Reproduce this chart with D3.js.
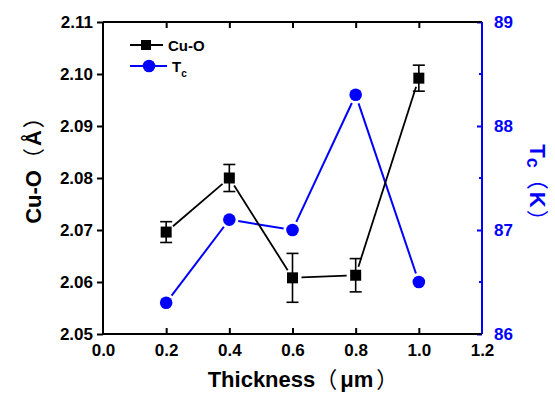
<!DOCTYPE html>
<html>
<head>
<meta charset="utf-8">
<script src="https://cdn.jsdelivr.net/npm/d3@7"></script>
<style>
  body { margin: 0; background: #fff; }
  svg { display: block; font-family: "Liberation Sans", Arial, sans-serif; font-weight: bold; }
</style>
</head>
<body>
<svg id="chart" width="555" height="394"></svg>
<script>
// data
var thickness = [0.2, 0.4, 0.6, 0.8, 1.0];
var cuO = [2.0696, 2.0800, 2.0608, 2.0613, 2.0992];
var cuOErr = [0.0020, 0.0026, 0.0047, 0.0032, 0.0025];
var tc = [86.30, 87.10, 87.00, 88.30, 86.50];

var xTicks = [0.0, 0.2, 0.4, 0.6, 0.8, 1.0, 1.2];
var yLeftTicks = [2.05, 2.06, 2.07, 2.08, 2.09, 2.10, 2.11];
var yRightTicks = [86, 87, 88, 89];
var yRightMinor = [86.5, 87.5, 88.5];

var blue = '#0000ff';

var svg = d3.select('#chart'),
    margin = { top: 22, right: 73, bottom: 60, left: 103 },
    width = 555 - margin.left - margin.right,
    height = 394 - margin.top - margin.bottom;

var x = d3.scaleLinear().domain([0, 1.2]).range([0, width]);
var yL = d3.scaleLinear().domain([2.05, 2.11]).range([height, 0]);
var yR = d3.scaleLinear().domain([86, 89]).range([height, 0]);

var g = svg.append('g')
    .attr('transform', 'translate(' + margin.left + ',' + margin.top + ')');

// lines broken around symbols, Origin style
function gappedSegments(pts, gap) {
    var segs = [];
    for (var i = 0; i < pts.length - 1; i++) {
        var a = pts[i], b = pts[i + 1];
        var dx = b[0] - a[0], dy = b[1] - a[1];
        var len = Math.sqrt(dx * dx + dy * dy);
        if (len <= 2 * gap) continue;
        var ux = dx / len, uy = dy / len;
        segs.push([[a[0] + ux * gap, a[1] + uy * gap], [b[0] - ux * gap, b[1] - uy * gap]]);
    }
    return segs;
}

var cuPts = thickness.map(function(t, i) { return [x(t), yL(cuO[i])]; });
var tcPts = thickness.map(function(t, i) { return [x(t), yR(tc[i])]; });
var line = d3.line();

// Tc series
g.append('g').selectAll('path')
    .data(gappedSegments(tcPts, 9))
    .enter().append('path')
    .attr('d', line)
    .attr('fill', 'none')
    .attr('stroke', blue)
    .attr('stroke-width', 2);

g.append('g').selectAll('circle')
    .data(thickness)
    .enter().append('circle')
    .attr('cx', function(d) { return x(d); })
    .attr('cy', function(d, i) { return yR(tc[i]); })
    .attr('r', 6.3)
    .attr('fill', blue);

// Cu-O series
g.append('g').selectAll('path')
    .data(gappedSegments(cuPts, 9))
    .enter().append('path')
    .attr('d', line)
    .attr('fill', 'none')
    .attr('stroke', '#000')
    .attr('stroke-width', 1.8);

var err = g.append('g').attr('stroke', '#000').attr('stroke-width', 1.6);
thickness.forEach(function(t, i) {
    var cx = x(t), y1 = yL(cuO[i] - cuOErr[i]), y2 = yL(cuO[i] + cuOErr[i]);
    err.append('line').attr('x1', cx).attr('x2', cx).attr('y1', y1).attr('y2', y2);
    err.append('line').attr('x1', cx - 6).attr('x2', cx + 6).attr('y1', y1).attr('y2', y1);
    err.append('line').attr('x1', cx - 6).attr('x2', cx + 6).attr('y1', y2).attr('y2', y2);
});

g.append('g').selectAll('rect')
    .data(thickness)
    .enter().append('rect')
    .attr('x', function(d) { return x(d) - 5.5; })
    .attr('y', function(d, i) { return yL(cuO[i]) - 5.5; })
    .attr('width', 11)
    .attr('height', 11)
    .attr('fill', '#000');

// axes
function styleAxis(sel, color, size) {
    sel.select('.domain').remove();
    sel.selectAll('.tick line').attr('stroke', color).attr('stroke-width', 2);
    sel.selectAll('.tick text')
        .attr('fill', color)
        .style('font-size', size + 'px')
        .style('font-weight', 'bold')
        .style('font-family', '"Liberation Sans", Arial, sans-serif');
}

var xAxis = g.append('g')
    .attr('transform', 'translate(0,' + height + ')')
    .call(d3.axisBottom(x).tickValues(xTicks).tickFormat(d3.format('.1f'))
        .tickSizeInner(-6).tickSizeOuter(0).tickPadding(10));
styleAxis(xAxis, '#000', 17);
xAxis.selectAll('.tick line').filter(function(d) { return d === 0 || d === 1.2; }).remove();

var xTop = g.append('g')
    .call(d3.axisTop(x).tickValues(xTicks.slice(1, -1)).tickFormat('')
        .tickSizeInner(-6).tickSizeOuter(0));
styleAxis(xTop, '#000', 17);

var yAxisL = g.append('g')
    .call(d3.axisLeft(yL).tickValues(yLeftTicks).tickFormat(d3.format('.2f'))
        .tickSizeInner(6).tickSizeOuter(0).tickPadding(4));
styleAxis(yAxisL, '#000', 17);

var yAxisR = g.append('g')
    .attr('transform', 'translate(' + width + ',0)')
    .call(d3.axisRight(yR).tickValues(yRightTicks).tickFormat(d3.format('d'))
        .tickSizeInner(-5).tickSizeOuter(0).tickPadding(12));
styleAxis(yAxisR, blue, 17);

g.append('g')
    .attr('transform', 'translate(' + width + ',0)')
    .selectAll('line')
    .data(yRightMinor)
    .enter().append('line')
    .attr('x1', -3).attr('x2', 0)
    .attr('y1', function(d) { return yR(d); })
    .attr('y2', function(d) { return yR(d); })
    .attr('stroke', blue)
    .attr('stroke-width', 2);

// frame
g.append('line').attr('x1', 0).attr('x2', width).attr('y1', 0).attr('y2', 0)
    .attr('stroke', '#000').attr('stroke-width', 2);
g.append('line').attr('x1', 0).attr('x2', width).attr('y1', height).attr('y2', height)
    .attr('stroke', '#000').attr('stroke-width', 2);
g.append('line').attr('x1', 0).attr('x2', 0).attr('y1', 0).attr('y2', height)
    .attr('stroke', '#000').attr('stroke-width', 2);
g.append('line').attr('x1', width).attr('x2', width).attr('y1', 0).attr('y2', height)
    .attr('stroke', blue).attr('stroke-width', 2);

// axis titles
var paren = 'font-family:"Noto Sans CJK SC";font-weight:normal';

var xt = svg.append('text')
    .attr('x', 303).attr('y', 387)
    .attr('text-anchor', 'middle')
    .style('font-size', '22px');
xt.append('tspan').text('Thickness');
xt.append('tspan').attr('style', paren).text('（');
xt.append('tspan').attr('dx', 3).text('μm');
xt.append('tspan').attr('dx', 3).attr('style', paren).text('）');

var ylt = svg.append('text')
    .attr('transform', 'translate(41,165) rotate(-90)')
    .attr('text-anchor', 'middle')
    .style('font-size', '22px');
ylt.append('tspan').text('Cu-O');
ylt.append('tspan').attr('style', paren).text('（');
ylt.append('tspan').attr('dx', 2).text('Å');
ylt.append('tspan').attr('dx', 2).attr('style', paren).text('）');

var yrt = svg.append('text')
    .attr('transform', 'translate(530,188) rotate(90)')
    .attr('text-anchor', 'middle')
    .attr('fill', blue)
    .style('font-size', '22px');
yrt.append('tspan').text('T');
yrt.append('tspan').attr('dy', 3).style('font-size', '18px').text('c');
yrt.append('tspan').attr('dy', -3).attr('style', paren).text('（');
yrt.append('tspan').attr('dx', 2).text('K');
yrt.append('tspan').attr('dx', 2).attr('style', paren).text('）');

// legend
var leg = svg.append('g');
leg.append('line').attr('x1', 130).attr('x2', 163).attr('y1', 45).attr('y2', 45)
    .attr('stroke', '#000').attr('stroke-width', 1.8);
leg.append('rect').attr('x', 141).attr('y', 40).attr('width', 10).attr('height', 10).attr('fill', '#000');
leg.append('text').attr('x', 168).attr('y', 50.5).style('font-size', '15px').text('Cu-O');

leg.append('line').attr('x1', 130).attr('x2', 167).attr('y1', 66).attr('y2', 66)
    .attr('stroke', blue).attr('stroke-width', 2);
leg.append('circle').attr('cx', 149).attr('cy', 66).attr('r', 6.3).attr('fill', blue);
var lt = leg.append('text').attr('x', 172).attr('y', 71.5).style('font-size', '15px');
lt.append('tspan').text('T');
lt.append('tspan').attr('dy', 5).style('font-size', '10px').text('c');
</script>
</body>
</html>
